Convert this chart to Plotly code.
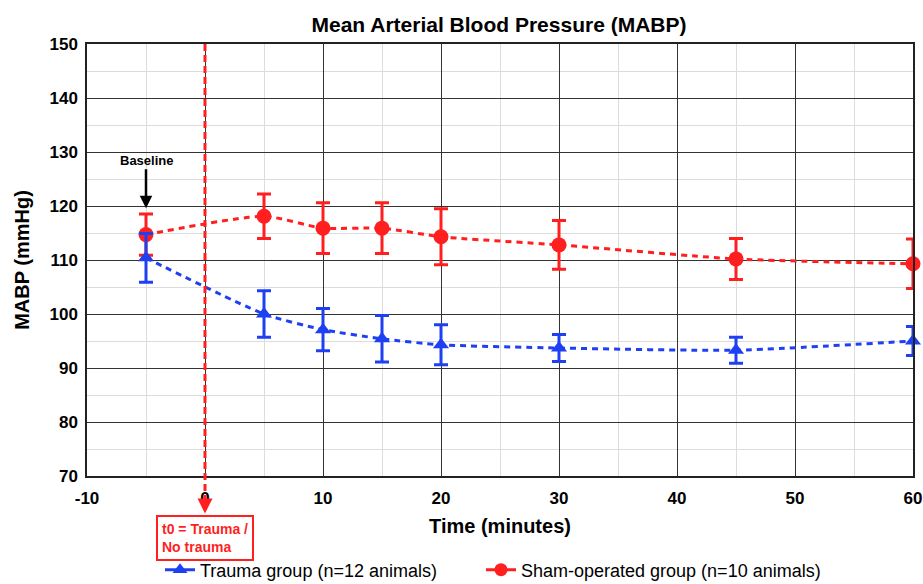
import plotly.graph_objects as go

time_min = [-5, 5, 10, 15, 20, 30, 45, 60]
trauma_mean = [110.4, 100.0, 97.1, 95.4, 94.3, 93.7, 93.3, 95.0]
trauma_err = [4.5, 4.3, 3.9, 4.3, 3.7, 2.5, 2.4, 2.7]
sham_mean = [114.7, 118.1, 115.9, 115.9, 114.3, 112.8, 110.2, 109.3]
sham_err = [3.8, 4.1, 4.7, 4.7, 5.2, 4.5, 3.8, 4.6]

x_ticks = [-10, 0, 10, 20, 30, 40, 50, 60]
y_ticks = [70, 80, 90, 100, 110, 120, 130, 140, 150]

RED = "#FF1F1F"
BLUE = "#1F40F2"
FONT = "Liberation Sans"

W, H = 923, 584

fig = go.Figure()

fig.add_trace(go.Scatter(
    x=time_min, y=sham_mean, mode="lines+markers",
    line=dict(color=RED, width=3, dash="6px,5px", shape="spline", smoothing=0.6),
    marker=dict(symbol="circle", size=15, color=RED),
    error_y=dict(type="data", array=sham_err, color=RED, thickness=3, width=7),
    showlegend=False, cliponaxis=False,
))
fig.add_trace(go.Scatter(
    x=time_min, y=trauma_mean, mode="lines+markers",
    line=dict(color=BLUE, width=3, dash="6px,5px", shape="spline", smoothing=0.6),
    marker=dict(symbol="triangle-up", size=14, color=BLUE),
    error_y=dict(type="data", array=trauma_err, color=BLUE, thickness=3, width=7),
    showlegend=False, cliponaxis=False,
))
# legend entries
fig.add_trace(go.Scatter(
    x=[None], y=[None], mode="lines+markers", name="Trauma group (n=12 animals)",
    line=dict(color=BLUE, width=3), marker=dict(symbol="triangle-up", size=13, color=BLUE),
    legend="legend",
))
fig.add_trace(go.Scatter(
    x=[None], y=[None], mode="lines+markers", name="Sham-operated group (n=10 animals)",
    line=dict(color=RED, width=3), marker=dict(symbol="circle", size=13, color=RED),
    legend="legend2",
))

# vertical t0 line
fig.add_shape(type="line", xref="x", yref="paper", x0=0, x1=0, y0=1, y1=-0.06,
              line=dict(color=RED, width=3, dash="7px,4px"), layer="above")
fig.add_annotation(x=0, y=-0.087, xref="x", yref="paper", text="", showarrow=True,
                   ax=0, ay=-14, arrowhead=2, arrowsize=1, arrowwidth=3, arrowcolor=RED,
                   axref="pixel", ayref="pixel")
fig.add_annotation(x=0, y=-0.091, xref="x", yref="paper", yanchor="top", xanchor="center",
                   text="t0 = Trauma /<br>No trauma", showarrow=False, align="left",
                   font=dict(family=FONT, size=14, color=RED, weight="bold"),
                   bordercolor=RED, borderwidth=2, borderpad=4, bgcolor="white")

# Baseline arrow
fig.add_annotation(x=-5, y=119.6, xref="x", yref="y", text="Baseline", showarrow=True,
                   ax=0, ay=-48, arrowhead=2, arrowsize=1, arrowwidth=2.5, arrowcolor="black",
                   font=dict(family=FONT, size=13, color="black", weight="bold"))

axis_common = dict(
    showline=True, linecolor="#222", linewidth=1.5, mirror=True,
    showgrid=True, gridcolor="#333", gridwidth=1,
    ticks="", zeroline=False, automargin=False,
    tickfont=dict(family=FONT, size=17, color="black", weight="bold"),
)

fig.update_xaxes(range=[-10, 60], tickvals=x_ticks, ticktext=[str(v) for v in x_ticks],
                 minor=dict(dtick=5, showgrid=True, gridcolor="#DCDCDC", gridwidth=1),
                 ticklabelstandoff=6,
                 title=dict(text="Time (minutes)", standoff=12,
                            font=dict(family=FONT, size=20, color="black", weight="bold")),
                 **axis_common)
fig.update_yaxes(range=[70, 150], tickvals=y_ticks, ticktext=[str(v) for v in y_ticks],
                 minor=dict(dtick=5, showgrid=True, gridcolor="#DCDCDC", gridwidth=1),
                 title=dict(text="MABP (mmHg)", standoff=14,
                            font=dict(family=FONT, size=20, color="black", weight="bold")),
                 ticklabelstandoff=4,
                 **axis_common)

legend_common = dict(orientation="h", xanchor="left", yref="container",
                     y=1 - 570 / H, yanchor="middle",
                     font=dict(family=FONT, size=18, color="black"),
                     itemwidth=30, bgcolor="rgba(0,0,0,0)")

fig.update_layout(
    width=W, height=H,
    margin=dict(l=87, r=10, t=44, b=108),
    paper_bgcolor="white", plot_bgcolor="white",
    title=dict(text="Mean Arterial Blood Pressure (MABP)", x=499 / W, xanchor="center",
               y=1 - 25 / H, yanchor="middle",
               font=dict(family=FONT, size=21, color="black", weight="bold")),
    legend=dict(x=(160 - 87) / 826, **legend_common),
    legend2=dict(x=(481 - 87) / 826, **legend_common),
    showlegend=True,
)

fig.write_html("out.html", config={"displayModeBar": False},
               post_script="document.body.style.margin='0';document.body.style.overflow='hidden';")
